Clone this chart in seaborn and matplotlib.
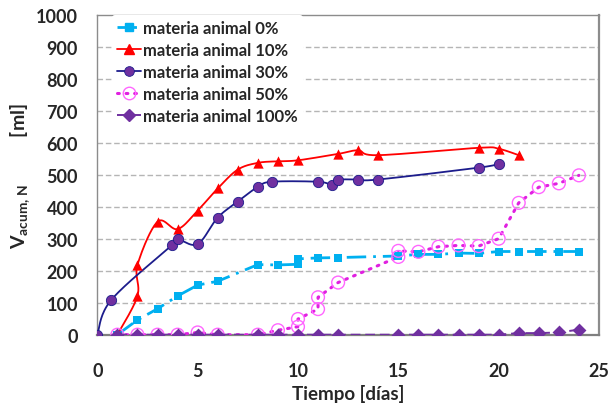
import numpy as np
import pandas as pd
import matplotlib
matplotlib.use("Agg")
import matplotlib.pyplot as plt
import seaborn as sns
from matplotlib.lines import Line2D

# ---------------- data ----------------
labels = ["materia animal 0%", "materia animal 10%", "materia animal 30%",
          "materia animal 50%", "materia animal 100%"]

d0_x = [1, 2, 3, 4, 5, 6, 8, 9, 10, 10, 11, 12, 15, 16, 17, 18, 19, 20, 21, 22, 23, 24]
d0_y = [0, 46, 81, 121, 155, 167, 219, 218, 220, 237, 240, 241, 246, 251, 251, 255, 254, 260, 260, 260, 260, 260]

d10_x = [1, 2, 2, 3, 4, 5, 6, 7, 8, 9, 10, 12, 13, 14, 19, 20, 21]
d10_y = [0, 121, 217, 353, 330, 388, 457, 516, 537, 542, 545, 565, 576, 561, 584, 581, 561]

d30_x = [0, 0.7, 3.7, 4, 5, 6, 7, 8, 8.7, 11, 11.7, 12, 13, 14, 19, 20]
d30_y = [0, 109, 279, 298, 283, 366, 416, 462, 478, 478, 469, 484, 485, 485, 522, 534]

d50_x = [1, 2, 3, 4, 5, 6, 8, 9, 10, 10, 11, 11, 12, 15, 15, 16, 17, 18, 19, 20, 21, 22, 23, 24]
d50_y = [0, 0, 0, 0, 7, 0, 0, 14, 25, 49, 80, 117, 163, 243, 262, 259, 275, 279, 277, 300, 412, 461, 473, 498]

d100_x = [1, 2, 3, 4, 5, 6, 8, 9, 10, 11, 12, 15, 16, 17, 18, 19, 20, 21, 22, 23, 24]
d100_y = [0, 0, 0, 0, 0, 0, 0, 0, 0, 0, 0, 0, 0, 0, 0, 0, 0, 5, 5, 7, 16]

x_ticks = [0, 5, 10, 15, 20, 25]
y_ticks = [0, 100, 200, 300, 400, 500, 600, 700, 800, 900, 1000]
x_label = "Tiempo [días]"

# ---------------- style ----------------
sns.set_theme(style="white")
plt.rcParams["font.family"] = ["Lato", "DejaVu Sans"]
plt.rcParams["mathtext.fontset"] = "custom"
plt.rcParams["mathtext.bf"] = "Lato:bold"
plt.rcParams["mathtext.rm"] = "Lato"
plt.rcParams["mathtext.it"] = "Lato:italic"

W, H = 611, 414
fig = plt.figure(figsize=(W / 100, H / 100), dpi=100)
ax = fig.add_axes([97.3 / W, 1 - 335.7 / H, (599 - 97.3) / W, (335.7 - 15.7) / H])
ax.set_xlim(0, 25)
ax.set_ylim(0, 1000)

PX_X = (599 - 97.3) / 25.0
PX_Y = (335.7 - 15.7) / 1000.0


def smooth(xs, ys, n=20):
    """Catmull-Rom curve through the points (Excel-like smoothing), in pixel space."""
    p = np.column_stack([np.asarray(xs, float) * PX_X, np.asarray(ys, float) * PX_Y])
    p = np.vstack([p[0], p, p[-1]])
    out = []
    t = np.linspace(0, 1, n, endpoint=False)[:, None]
    for i in range(1, len(p) - 2):
        p0, p1, p2, p3 = p[i - 1], p[i], p[i + 1], p[i + 2]
        c = 0.5 * ((2 * p1) + (-p0 + p2) * t + (2 * p0 - 5 * p1 + 4 * p2 - p3) * t ** 2
                   + (-p0 + 3 * p1 - 3 * p2 + p3) * t ** 3)
        out.append(c)
    out.append(p[-2][None, :])
    c = np.vstack(out)
    return c[:, 0] / PX_X, c[:, 1] / PX_Y


# grid
for yv in y_ticks[1:-1]:
    ax.axhline(yv, color="#b5b5b5", lw=1.0, ls=(0, (4, 2)), zorder=0)

c_cyan = "#00B0F0"
c_red = "#FF0000"
c_navy = "#1C1C8C"
c_purple = "#7030A0"
c_mag = "#E020E0"
c_mag_light = "#FF66FF"

# 0%
sns.lineplot(x=d0_x, y=d0_y, ax=ax, estimator=None, sort=False, color=c_cyan, lw=2.0,
             zorder=3)
ax.lines[-1].set_dashes((7, 2.5, 1, 2.5))
sns.scatterplot(x=d0_x, y=d0_y, ax=ax, marker="s", s=36, color=c_cyan, edgecolor=c_cyan,
                linewidth=0, zorder=4)

# 10%
sx, sy = smooth(d10_x, d10_y)
sns.lineplot(x=sx, y=sy, ax=ax, estimator=None, sort=False, color=c_red, lw=1.3, zorder=3)
sns.scatterplot(x=d10_x, y=d10_y, ax=ax, marker="^", s=55, color=c_red, edgecolor=c_red,
                linewidth=0, zorder=4)

# 30%
sx, sy = smooth(d30_x, d30_y)
sns.lineplot(x=sx, y=sy, ax=ax, estimator=None, sort=False, color=c_navy, lw=1.3, zorder=3)
sns.scatterplot(x=d30_x, y=d30_y, ax=ax, marker="o", s=55, color=c_purple, edgecolor=c_navy,
                linewidth=0.6, zorder=4)

# 50%
sns.lineplot(x=d50_x, y=d50_y, ax=ax, estimator=None, sort=False, color=c_mag, lw=2.2,
             zorder=3)
ax.lines[-1].set_linestyle((0, (0.6, 2.2)))
ax.lines[-1].set_dash_capstyle("round")
sns.scatterplot(x=d50_x, y=d50_y, ax=ax, marker="o", s=85, facecolor="none",
                edgecolor=c_mag_light, linewidth=1.0, zorder=4)

# 100%
sns.lineplot(x=d100_x, y=d100_y, ax=ax, estimator=None, sort=False, color=c_purple, lw=1.4,
             zorder=5)
ax.lines[-1].set_dashes((5, 2.5))
sns.scatterplot(x=d100_x, y=d100_y, ax=ax, marker="D", s=50, color=c_purple,
                edgecolor=c_purple, linewidth=0, zorder=6)

# axes
ax.set_xticks(x_ticks)
ax.set_yticks(y_ticks)
ax.tick_params(axis="both", which="both", direction="out", length=6, width=1,
               color="#8c8c8c", labelsize=13)
for lab in ax.get_xticklabels() + ax.get_yticklabels():
    lab.set_fontweight("bold")
ax.tick_params(axis="x", pad=14)
ax.tick_params(axis="y", pad=8)

for s in ["left", "top"]:
    ax.spines[s].set_color("#8c8c8c")
    ax.spines[s].set_linewidth(1.0)
ax.spines["right"].set_color("#8c8c8c")
ax.spines["right"].set_linewidth(1.6)
ax.spines["bottom"].set_color("#7f7f7f")
ax.spines["bottom"].set_linewidth(1.6)

ax.set_xlabel(x_label, fontsize=13.5, fontweight="bold", labelpad=3)
ax.set_ylabel(r"$\mathbf{V_{acum,\,N}}$          [ml]", fontsize=14, fontweight="bold",
              labelpad=3)

handles = [
    Line2D([], [], color=c_cyan, lw=2.0, dashes=(7, 2.5, 1, 2.5), marker="s", ms=5.5),
    Line2D([], [], color=c_red, lw=1.3, marker="^", ms=7),
    Line2D([], [], color=c_navy, lw=1.3, marker="o", ms=7, markerfacecolor=c_purple,
           markeredgecolor=c_navy, markeredgewidth=0.6),
    Line2D([], [], color=c_mag, lw=2.2, ls=(0, (0.6, 2.2)), dash_capstyle="round", marker="o",
           ms=9, markerfacecolor="none", markeredgecolor=c_mag_light, markeredgewidth=1.0),
    Line2D([], [], color=c_purple, lw=1.4, dashes=(5, 2.5), marker="D", ms=6),
]
leg = ax.legend(handles, labels, loc="upper left", bbox_to_anchor=(0.012, 1.025),
                frameon=True, framealpha=1, facecolor="white", edgecolor="none",
                handlelength=1.45, handletextpad=0.15, labelspacing=0.36, borderpad=0.3,
                prop={"family": "Lato", "weight": "bold", "size": 12})
leg.set_zorder(7)

fig.savefig("out.png", dpi=100)
